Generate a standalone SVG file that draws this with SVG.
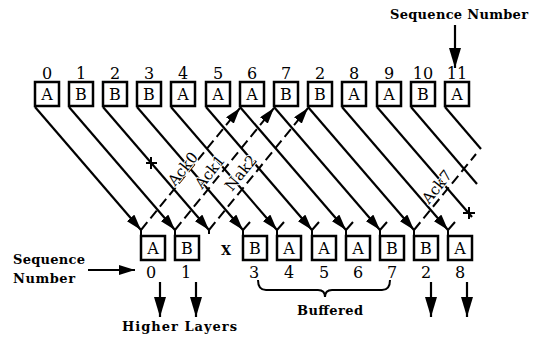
<svg xmlns="http://www.w3.org/2000/svg" width="540" height="337" viewBox="0 0 540 337">
<style>
.box{fill:#fff;stroke:#000;stroke-width:2.5}
.let{font-family:"DejaVu Serif","Liberation Serif",serif;font-size:16px;text-anchor:middle;fill:#000}
.num{font-family:"DejaVu Serif","Liberation Serif",serif;font-size:16px;text-anchor:middle;fill:#000}
.lbl{font-family:"DejaVu Serif","Liberation Serif",serif;font-size:13px;font-weight:bold;fill:#000}
.ack{font-family:"DejaVu Serif","Liberation Serif",serif;font-size:15px;text-anchor:middle;dominant-baseline:central;fill:#000;stroke:#fff;stroke-width:2;paint-order:stroke}
.d{stroke:#000;stroke-width:2.2;fill:none}
.a{stroke:#000;stroke-width:2;fill:none;stroke-dasharray:10 5}
.t{stroke:#000;stroke-width:2;fill:none}
</style>
<defs>
<marker id="ah" markerUnits="userSpaceOnUse" markerWidth="16" markerHeight="10" refX="16" refY="5" orient="auto"><path d="M0,0 L16,5 L0,10 z" fill="#000"/></marker>
<marker id="bh" markerUnits="userSpaceOnUse" markerWidth="20" markerHeight="12" refX="20" refY="6" orient="auto"><path d="M0,0 L20,6 L0,12 z" fill="#000"/></marker>
</defs>

<g id="title-seq">
<text class="lbl" x="390" y="19" textLength="138">Sequence Number</text>
</g>

<g id="top-frames">
<g id="t0"><text class="num" x="47" y="79">0</text><rect class="box" x="35" y="82" width="24" height="24"/><text class="let" x="47" y="100">A</text></g>
<g id="t1"><text class="num" x="81" y="79">1</text><rect class="box" x="69" y="82" width="24" height="24"/><text class="let" x="81" y="100">B</text></g>
<g id="t2"><text class="num" x="115" y="79">2</text><rect class="box" x="103" y="82" width="24" height="24"/><text class="let" x="115" y="100">B</text></g>
<g id="t3"><text class="num" x="149" y="79">3</text><rect class="box" x="137" y="82" width="24" height="24"/><text class="let" x="149" y="100">B</text></g>
<g id="t4"><text class="num" x="183" y="79">4</text><rect class="box" x="171" y="82" width="24" height="24"/><text class="let" x="183" y="100">A</text></g>
<g id="t5"><text class="num" x="218" y="79">5</text><rect class="box" x="206" y="82" width="24" height="24"/><text class="let" x="218" y="100">A</text></g>
<g id="t6"><text class="num" x="252" y="79">6</text><rect class="box" x="240" y="82" width="24" height="24"/><text class="let" x="252" y="100">A</text></g>
<g id="t7"><text class="num" x="286" y="79">7</text><rect class="box" x="274" y="82" width="24" height="24"/><text class="let" x="286" y="100">B</text></g>
<g id="t8"><text class="num" x="320" y="79">2</text><rect class="box" x="308" y="82" width="24" height="24"/><text class="let" x="320" y="100">B</text></g>
<g id="t9"><text class="num" x="354" y="79">8</text><rect class="box" x="342" y="82" width="24" height="24"/><text class="let" x="354" y="100">A</text></g>
<g id="t10"><text class="num" x="389" y="79">9</text><rect class="box" x="377" y="82" width="24" height="24"/><text class="let" x="389" y="100">A</text></g>
<g id="t11"><text class="num" x="423" y="79">10</text><rect class="box" x="411" y="82" width="24" height="24"/><text class="let" x="423" y="100">B</text></g>
<g id="t12"><text class="num" x="457" y="79">11</text><rect class="box" x="445" y="82" width="24" height="24"/><text class="let" x="457" y="100">A</text></g>
</g>

<g id="bottom-frames">
<g id="b0"><rect class="box" x="141" y="236" width="24" height="24"/><text class="let" x="153" y="254">A</text><text class="num" x="151" y="278">0</text></g>
<g id="b1"><rect class="box" x="175" y="236" width="24" height="24"/><text class="let" x="187" y="254">B</text><text class="num" x="186" y="278">1</text></g>
<g id="b2"><text class="lbl" x="226" y="255" text-anchor="middle" font-size="14">X</text></g>
<g id="b3"><rect class="box" x="243" y="236" width="24" height="24"/><text class="let" x="255" y="254">B</text><text class="num" x="254" y="278">3</text></g>
<g id="b4"><rect class="box" x="277" y="236" width="24" height="24"/><text class="let" x="289" y="254">A</text><text class="num" x="289" y="278">4</text></g>
<g id="b5"><rect class="box" x="312" y="236" width="24" height="24"/><text class="let" x="324" y="254">A</text><text class="num" x="324" y="278">5</text></g>
<g id="b6"><rect class="box" x="346" y="236" width="24" height="24"/><text class="let" x="358" y="254">A</text><text class="num" x="358" y="278">6</text></g>
<g id="b7"><rect class="box" x="380" y="236" width="24" height="24"/><text class="let" x="392" y="254">B</text><text class="num" x="392" y="278">7</text></g>
<g id="b8"><rect class="box" x="414" y="236" width="24" height="24"/><text class="let" x="426" y="254">B</text><text class="num" x="426" y="278">2</text></g>
<g id="b9"><rect class="box" x="448" y="236" width="24" height="24"/><text class="let" x="460" y="254">A</text><text class="num" x="460" y="278">8</text></g>
</g>

<g id="seq-label-left">
<text class="lbl" x="13" y="264" textLength="72">Sequence</text>
<text class="lbl" x="13" y="283" textLength="62">Number</text>
</g>
<g id="higher-layers"><text class="lbl" x="122" y="331" textLength="115">Higher Layers</text></g>
<g id="buffered"><text class="lbl" x="297" y="315" textLength="66">Buffered</text></g>

<g id="connectors">
<!-- data frames -->
<line class="d" x1="35" y1="107" x2="141" y2="230" marker-end="url(#ah)"/>
<line class="d" x1="69" y1="107" x2="175" y2="230" marker-end="url(#ah)"/>
<line class="d" x1="103" y1="107" x2="209" y2="230" marker-end="url(#ah)"/>
<line class="d" x1="137" y1="107" x2="243" y2="230" marker-end="url(#ah)"/>
<line class="d" x1="171" y1="107" x2="277" y2="230" marker-end="url(#ah)"/>
<line class="d" x1="206" y1="107" x2="312" y2="230" marker-end="url(#ah)"/>
<line class="d" x1="240" y1="107" x2="346" y2="230" marker-end="url(#ah)"/>
<line class="d" x1="274" y1="107" x2="380" y2="230" marker-end="url(#ah)"/>
<line class="d" x1="308" y1="107" x2="414" y2="230" marker-end="url(#ah)"/>
<line class="d" x1="342" y1="107" x2="448" y2="230" marker-end="url(#ah)"/>
<line class="d" x1="377" y1="107" x2="472" y2="217"/>
<line class="d" x1="411" y1="107" x2="477" y2="184"/>
<line class="d" x1="445" y1="107" x2="481" y2="149"/>
<!-- error crosses -->
<path class="t" d="M146,163 H157 M151,157 V169"/>
<path class="t" d="M463,213 H475 M469,207 V219"/>
<!-- stems and ticks at receiver -->
<path class="t" d="M141,230 V236 M175,230 V236 M243,230 V236 M277,230 V236 M312,230 V236 M346,230 V236 M380,230 V236 M414,230 V236 M448,230 V236 M209,230 V234"/>
<path class="t" d="M243,230 l7,-8 M277,230 l7,-8 M312,230 l7,-8 M346,230 l7,-8 M380,230 l7,-8 M448,230 l7,-8"/>
<!-- acks -->
<line class="a" x1="141" y1="230" x2="240" y2="108" marker-end="url(#ah)"/>
<line class="a" x1="175" y1="230" x2="274" y2="108" marker-end="url(#ah)"/>
<line class="a" x1="209" y1="230" x2="308" y2="108" marker-end="url(#ah)"/>
<line class="a" x1="414" y1="230" x2="476" y2="154"/>
<!-- pointer arrows -->
<line class="d" x1="455" y1="25" x2="455" y2="68" marker-end="url(#bh)"/>
<line class="d" x1="88" y1="270" x2="135" y2="270" marker-end="url(#ah)"/>
<line class="d" x1="160" y1="282" x2="160" y2="317" marker-end="url(#bh)"/>
<line class="d" x1="196" y1="282" x2="196" y2="317" marker-end="url(#bh)"/>
<line class="d" x1="431" y1="282" x2="431" y2="317" marker-end="url(#bh)"/>
<line class="d" x1="467" y1="282" x2="467" y2="317" marker-end="url(#bh)"/>
<!-- brace -->
<path class="t" d="M258,280 Q258,290 266,290 L318,290 Q325,290 325,297 Q325,290 332,290 L382,290 Q390,290 390,280"/>
</g>

<g id="ack-labels">
<text class="ack" transform="translate(183,169) rotate(-51)">Ack0</text>
<text class="ack" transform="translate(210,172) rotate(-51)">Ack1</text>
<text class="ack" transform="translate(241,173) rotate(-51)">Nak2</text>
<text class="ack" transform="translate(437,187) rotate(-51)">Ack7</text>
</g>
</svg>
